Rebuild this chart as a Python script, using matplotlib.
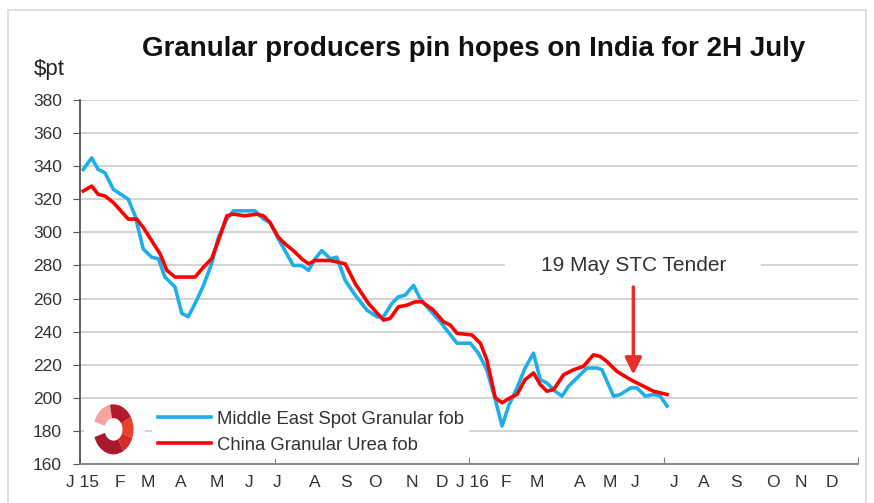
import matplotlib
matplotlib.use("Agg")
import matplotlib.pyplot as plt
from matplotlib.patches import Wedge, Rectangle
from matplotlib.lines import Line2D

plt.rcParams['font.family'] = ['Liberation Sans', 'DejaVu Sans']

# x positions in months since Jan 2015
me_x = [0.10, 0.36, 0.56, 0.77, 1.03, 1.49, 1.70, 1.95, 2.21, 2.42, 2.62, 2.93, 3.14, 3.34,
        3.60, 3.81, 4.06, 4.27, 4.53, 4.73, 5.40, 5.66, 5.86, 6.12, 6.38, 6.58, 6.84, 7.05,
        7.25, 7.46, 7.72, 7.92, 8.18, 8.49, 8.85, 9.16, 9.36, 9.62, 9.82, 10.03, 10.29, 10.49,
        10.75, 11.11, 11.63, 12.04, 12.29, 12.55, 12.81, 13.02, 13.22, 13.48, 13.73, 13.99,
        14.20, 14.40, 14.66, 14.87, 15.07, 15.33, 15.64, 15.95, 16.10, 16.46, 16.67, 16.98,
        17.18, 17.44, 17.69, 17.90, 18.11]
me_y = [338, 345, 338, 336, 326, 320, 310, 290, 285, 284, 273, 267, 251, 249,
        259, 268, 281, 297, 308, 313, 313, 308, 306, 296, 287, 280, 280, 277,
        284, 289, 284, 285, 271, 262, 253, 249, 249, 257, 261, 262, 268, 260,
        254, 246, 233, 233, 227, 217, 199, 183, 195, 206, 218, 227,
        211, 209, 204, 201, 207, 212, 218, 218, 217, 201, 202, 206,
        206, 201, 202, 201, 195]

cn_x = [0.10, 0.36, 0.56, 0.77, 1.03, 1.49, 1.75, 1.95, 2.21, 2.47, 2.68, 2.93, 3.55, 3.81,
        4.06, 4.27, 4.53, 4.73, 5.09, 5.45, 5.66, 5.86, 6.12, 6.33, 6.58, 6.84, 7.05, 7.25,
        7.72, 8.18, 8.49, 8.90, 9.36, 9.57, 9.82, 10.08, 10.34, 10.55, 10.90, 11.21, 11.42,
        11.63, 12.09, 12.35, 12.55, 12.81, 13.02, 13.27, 13.48, 13.73, 13.99, 14.20, 14.40,
        14.61, 14.92, 15.23, 15.53, 15.84, 16.05, 16.25, 16.56, 16.98, 17.28, 17.69, 18.11]
cn_y = [325, 328, 323, 322, 318, 308, 308, 303, 295, 287, 277, 273, 273, 279,
        284, 295, 310, 311, 310, 311, 310, 306, 297, 293, 289, 284, 281, 283,
        283, 281, 269, 257, 247, 248, 255, 256, 258, 258, 253, 246, 244,
        239, 238, 233, 223, 200, 197, 200, 202, 211, 215, 208, 204,
        205, 214, 217, 219, 226, 225, 222, 216, 211, 208, 204, 202]

month_labels = ['J 15', 'F', 'M', 'A', 'M', 'J', 'J', 'A', 'S', 'O', 'N', 'D',
                'J 16', 'F', 'M', 'A', 'M', 'J', 'J', 'A', 'S', 'O', 'N', 'D']
month_label_pos = [0.08, 1.23, 2.10, 3.12, 4.23, 5.22, 6.08, 7.25, 8.20, 9.10, 10.25, 11.17,
                   12.10, 13.15, 14.10, 15.43, 16.33, 17.13, 18.33, 19.23, 20.25, 21.36, 22.25, 23.18]

W, H = 874, 503
fig = plt.figure(figsize=(W / 100, H / 100), dpi=100)
ax = fig.add_axes([80 / W, 1 - 464 / H, 778 / W, 364 / H])

ax.set_xlim(0, 24)
ax.set_ylim(160, 380)
ax.set_axisbelow(True)
ax.set_yticks(range(160, 381, 20))
ax.yaxis.grid(True, color='#c8c8c8', lw=1.1)
ax.set_xticks([0, 6, 12, 18, 24], labels=[])
ax.set_xticks(month_label_pos, labels=month_labels, minor=True)

for s in ['top', 'right']:
    ax.spines[s].set_visible(False)
ax.spines['left'].set_color('#555555')
ax.spines['bottom'].set_color('#808080')
ax.spines['left'].set_linewidth(1.3)
ax.spines['bottom'].set_linewidth(1.3)
ax.tick_params(axis='y', length=5, color='#555555', labelsize=12.5, labelcolor='#333333', pad=8)
ax.tick_params(axis='x', which='major', direction='in', length=5, color='#808080')
ax.tick_params(axis='x', which='minor', length=0, pad=8, labelsize=12.5, labelcolor='#333333')

ax.plot(me_x, me_y, color='#1eaee8', lw=2.6, label='Middle East Spot Granular fob', zorder=3)
ax.plot(cn_x, cn_y, color='#ff0000', lw=2.6, label='China Granular Urea fob', zorder=4)

# annotation with white box over the gridline
ax.add_patch(Rectangle((13.1, 275), 7.9, 10, facecolor='white', edgecolor='none', zorder=1))
ax.text(17.07, 280, '19 May STC Tender', ha='center', va='center', fontsize=15,
        color='#333333', zorder=2)
ax.annotate('', xy=(17.07, 214), xytext=(17.07, 267),
            arrowprops=dict(arrowstyle='-|>,head_width=0.5,head_length=1.0',
                            color='#e8302a', lw=2.5, shrinkA=0, shrinkB=0), zorder=5)

leg = ax.legend(loc='upper left', bbox_to_anchor=(152 / W, 1 - 405 / H),
                bbox_transform=fig.transFigure, fontsize=13.3, frameon=True,
                fancybox=False, edgecolor='none', facecolor='white', framealpha=1,
                handlelength=2.9, labelspacing=0.5, borderpad=0.3, handletextpad=0.3,
                borderaxespad=0)
for t in leg.get_texts():
    t.set_color('#333333')

# logo
lax = fig.add_axes([84 / W, 1 - 460 / H, 61 / W, 60 / H])
lax.set_xlim(-30.5, 30.5)
lax.set_ylim(-24, 24)
lax.axis('off')
lax.add_patch(Rectangle((-30.5, -24), 61, 48, facecolor='white', edgecolor='none'))
for t1, t2, c in [(100, 162, '#f5a3a3'), (30, 100, '#b3182d'), (-20, 30, '#e8412b'),
                  (-60, -20, '#d42a2a'), (-162, -60, '#a8192e')]:
    lax.add_patch(Wedge((-1, 0.5), 20, t1, t2, width=11, facecolor=c, edgecolor='none'))

fig.text(474 / W, 1 - 49 / H, 'Granular producers pin hopes on India for 2H July',
         ha='center', va='center', fontsize=20, fontweight='bold', color='#111111')
fig.text(34 / W, 1 - 70 / H, '$pt', ha='left', va='center', fontsize=16, color='#222222')

# light frame around the chart
for xs, ys in [([8, 8], [H + 5, 10]), ([8, 866], [10, 10]), ([866, 866], [10, H + 5])]:
    fig.add_artist(Line2D([x / W for x in xs], [1 - y / H for y in ys],
                          transform=fig.transFigure, color='#d9d9d9', lw=1.2))

fig.savefig('out.png', dpi=100, facecolor='white')
